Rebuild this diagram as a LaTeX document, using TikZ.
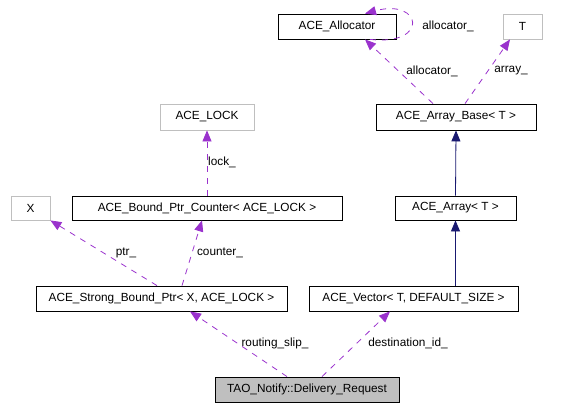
\documentclass[tikz,border=0pt]{standalone}
\usepackage{fontspec}
\setmainfont{Liberation Sans}
\usetikzlibrary{arrows.meta}
\definecolor{edgepurple}{HTML}{9A32CD}
\definecolor{edgenavy}{HTML}{191970}
\definecolor{boxgray}{HTML}{BFBFBF}
\begin{document}
\begin{tikzpicture}[x=1pt,y=-1pt,
    every node/.style={font=\fontsize{11.8}{13}\selectfont, inner sep=0pt},
    cls/.style={draw=black, line width=0.8pt, minimum height=25pt},
    tpl/.style={draw=boxgray, line width=0.8pt, minimum height=25pt},
    usage/.style={draw=edgepurple, line width=0.8pt, dash pattern=on 6pt off 6pt,
        -{Triangle[length=11pt,width=9pt,fill=edgepurple]}},
    inherit/.style={draw=edgenavy, line width=0.8pt,
        -{Triangle[length=11pt,width=9pt,fill=edgenavy]}}]
    \useasboundingbox (0,0) rectangle (575,407);
    \node [cls, fill=boxgray, minimum width=184pt] (deliv) at (307,389.5) {TAO\_Notify::Delivery\_Request};
    \node [cls, minimum width=251pt] (sbp) at (161.5,298.5) {ACE\_Strong\_Bound\_Ptr< X, ACE\_LOCK >};
    \node [cls, minimum width=209pt] (vec) at (413.5,298.5) {ACE\_Vector< T, DEFAULT\_SIZE >};
    \node [tpl, minimum width=39pt, minimum height=24pt] (X) at (30.5,208) {X};
    \node [cls, minimum width=270pt, minimum height=24pt] (bpc) at (207,208) {ACE\_Bound\_Ptr\_Counter< ACE\_LOCK >};
    \node [cls, minimum width=121pt, minimum height=24pt] (arr) at (455.5,208) {ACE\_Array< T >};
    \node [tpl, minimum width=94pt, minimum height=26pt] (lock) at (207,117) {ACE\_LOCK};
    \node [cls, minimum width=160pt, minimum height=26pt] (abase) at (456,117) {ACE\_Array\_Base< T >};
    \node [cls, minimum width=118pt] (alloc) at (337,26.5) {ACE\_Allocator};
    \node [tpl, minimum width=39pt] (T) at (522.5,26.5) {T};
    % usage relations
    \draw [usage] ([xshift=-20pt]deliv.north) -- ([xshift=28.5pt]sbp.south);
    \draw [usage] ([xshift=15pt]deliv.north) -- ([xshift=-23.5pt]vec.south);
    \draw [usage] ([xshift=-4.5pt]sbp.north) -- (X.south east);
    \draw [usage] ([xshift=20.5pt]sbp.north) -- ([xshift=-5pt]bpc.south);
    \draw [usage] (bpc.north) -- (lock.south);
    \draw [usage] ([xshift=-23pt]abase.north) -- ([xshift=28pt]alloc.south);
    \draw [usage] ([xshift=9pt]abase.north) -- ([xshift=-12.5pt]T.south);
    \draw [usage] ([xshift=33pt]alloc.south) .. controls (430,46) and (422,-2) .. ([xshift=28pt]alloc.north);
    % inheritance
    \draw [inherit] (arr.south |- vec.north) -- (arr.south);
    \draw [inherit] (arr.north) -- (abase.south);
    % labels
    \node (lroute) at (275,343) {routing\_slip\_};
    \node (ldest) at (408,343) {destination\_id\_};
    \node (lptr) at (126,253) {ptr\_};
    \node (lcount) at (220,253) {counter\_};
    \node (llock) at (222,162) {lock\_};
    \node (lalloc) at (432,71) {allocator\_};
    \node (larray) at (511,71) {array\_};
    \node (lself) at (448,26) {allocator\_};
\end{tikzpicture}
\end{document}
